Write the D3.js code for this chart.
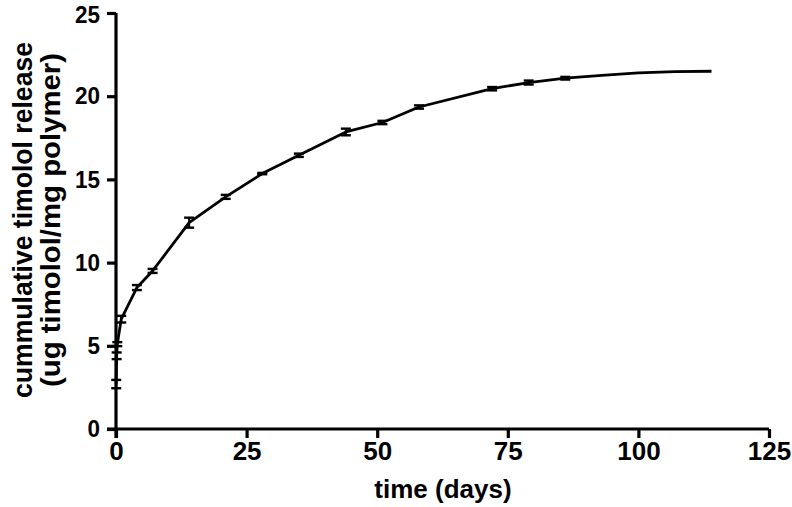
<!DOCTYPE html>
<html>
<head>
<meta charset="utf-8">
<script src="https://cdn.jsdelivr.net/npm/d3@7"></script>
<style>
  body { margin: 0; background: #fff; }
  svg text { font-family: "Liberation Sans", Arial, sans-serif; font-weight: bold; fill: #000; }
</style>
</head>
<body>
<svg id="chart" width="792" height="507"></svg>
<script>
// release data (days, ug timolol / mg polymer, error)
const days   = [0.04, 0.125, 0.25, 1, 4, 7, 14, 21, 28, 35, 44, 51, 58, 72, 79, 86, 93, 100, 107, 114];
const values = [2.7, 4.4, 5.1, 6.6, 8.5, 9.5, 12.4, 13.95, 15.35, 16.45, 17.85, 18.42, 19.35, 20.45, 20.82, 21.08, 21.25, 21.4, 21.48, 21.5];
const errs   = [0.25, 0.2, 0.12, 0.2, 0.15, 0.12, 0.3, 0.12, 0.04, 0.1, 0.2, 0.1, 0.1, 0.1, 0.12, 0.08, 0, 0, 0, 0];
const xTicks = [0, 25, 50, 75, 100, 125];
const yTicks = [0, 5, 10, 15, 20, 25];

const svg = d3.select("#chart");
const x = d3.scaleLinear().domain([0, 125]).range([116, 769]);
const y = d3.scaleLinear().domain([0, 25]).range([429, 13]);

const pts = days.map((d, i) => ({d: d, v: values[i], e: errs[i]}));

// axes
const xAxis = svg.append("g").attr("transform", "translate(0,429)")
  .call(d3.axisBottom(x).tickValues(xTicks).tickSize(9).tickPadding(4));
const yAxis = svg.append("g").attr("transform", "translate(116,0)")
  .call(d3.axisLeft(y).tickValues(yTicks).tickSize(9).tickPadding(7));

[xAxis, yAxis].forEach(a => {
  a.select(".domain").attr("stroke", "#000").attr("stroke-width", 3.2);
  a.selectAll(".tick line").attr("stroke", "#000").attr("stroke-width", 3.2);
  a.selectAll(".tick text").style("font-size", "26px");
});
// y labels are a bit narrower in the original
yAxis.selectAll(".tick text")
  .style("font-size", "24px")
  .attr("dy", d => d === 25 ? "0.4em" : "0.32em")
  .attr("textLength", d => String(d).length * 12.5)
  .attr("lengthAdjust", "spacingAndGlyphs");
// axis ends drawn square like the original
xAxis.select(".domain").attr("d", "M" + (x(0) - 9) + ",0H" + x(125));
yAxis.select(".domain").attr("d", "M0," + (y(0) + 9) + "V" + y(25));

// line
const line = d3.line().x(p => x(p.d)).y(p => y(p.v));
svg.append("path").datum(pts)
  .attr("d", line)
  .attr("fill", "none")
  .attr("stroke", "#000")
  .attr("stroke-linejoin", "round")
  .attr("stroke-width", 2.8);

// error bars
const eb = svg.append("g").selectAll("g").data(pts.filter(p => p.e > 0)).enter().append("g");
eb.append("line")
  .attr("x1", p => x(p.d)).attr("x2", p => x(p.d))
  .attr("y1", p => y(p.v - p.e)).attr("y2", p => y(p.v + p.e))
  .attr("stroke", "#000").attr("stroke-width", 2);
[1, -1].forEach(s => {
  eb.append("line")
    .attr("x1", p => x(p.d) - 5).attr("x2", p => x(p.d) + 5)
    .attr("y1", p => y(p.v + s * p.e)).attr("y2", p => y(p.v + s * p.e))
    .attr("stroke", "#000").attr("stroke-width", 2.4);
});

// axis titles
svg.append("text")
  .attr("x", 443).attr("y", 498)
  .attr("text-anchor", "middle")
  .style("font-size", "26px")
  .text("time (days)");

const yt = svg.append("text")
  .attr("transform", "translate(0,220) rotate(-90)")
  .attr("text-anchor", "middle")
  .style("font-size", "28px");
yt.append("tspan").attr("x", 0).attr("y", 32)
  .attr("textLength", 356).attr("lengthAdjust", "spacingAndGlyphs")
  .text("cummulative timolol release");
yt.append("tspan").attr("x", 0).attr("y", 60)
  .attr("textLength", 334).attr("lengthAdjust", "spacingAndGlyphs")
  .text("(ug timolol/mg polymer)");
</script>
</body>
</html>
